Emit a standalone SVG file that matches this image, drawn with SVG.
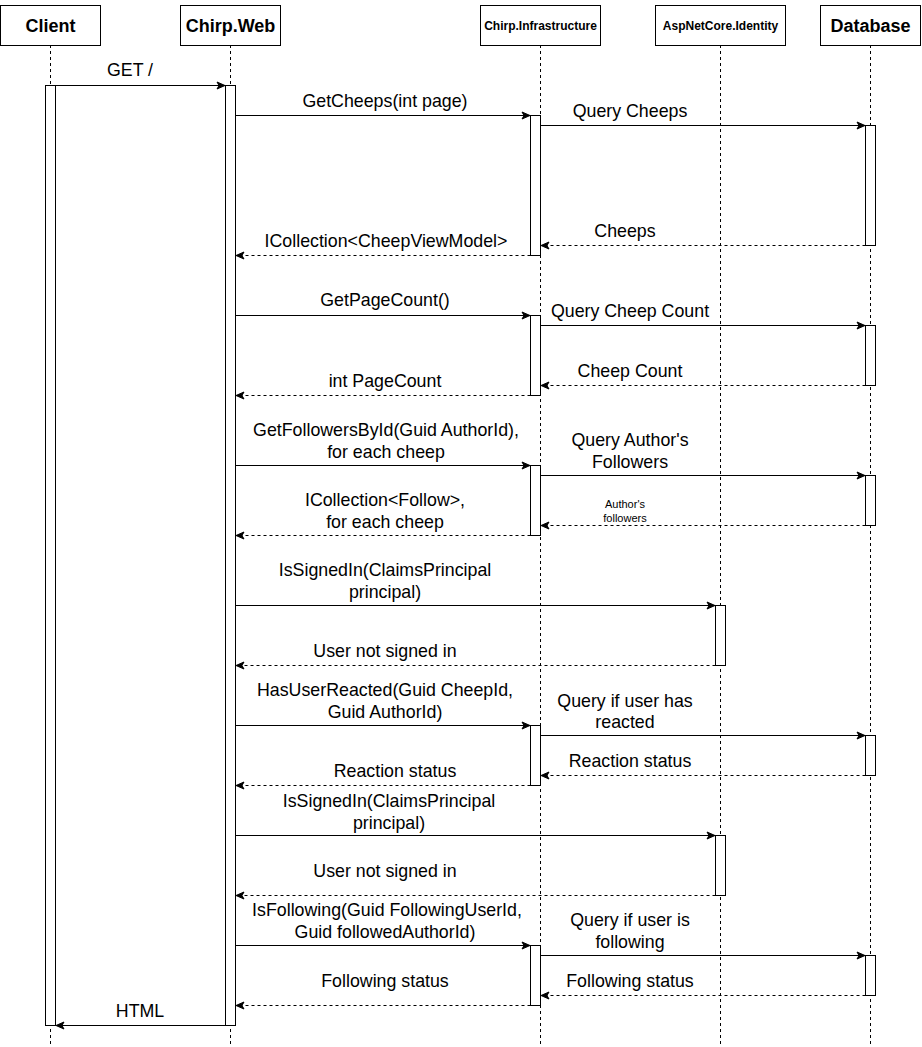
<svg xmlns="http://www.w3.org/2000/svg" width="922" height="1047" viewBox="0 0 922 1047">
  <style>
    .hdr { fill: #fff; stroke: #000; stroke-width: 1; }
    .hname { font-family: "Liberation Sans", Arial, sans-serif; font-weight: bold; font-size: 18px; text-anchor: middle; fill: #000; }
    .hsmall { font-family: "Liberation Sans", Arial, sans-serif; font-weight: bold; font-size: 12px; text-anchor: middle; fill: #000; }
    .life { stroke: #000; stroke-width: 1; stroke-dasharray: 3 3; fill: none; }
    .bar { fill: #fff; stroke: #000; stroke-width: 1; }
    .call { stroke: #000; stroke-width: 1; fill: none; marker-end: url(#arrow); }
    .ret { stroke: #000; stroke-width: 1; stroke-dasharray: 3 3; fill: none; marker-end: url(#arrow); }
    .lbl { font-family: "Liberation Sans", Arial, sans-serif; font-size: 17.8px; text-anchor: middle; fill: #000; }
    .lblsm { font-family: "Liberation Sans", Arial, sans-serif; font-size: 11px; text-anchor: middle; fill: #000; }
  </style>
  <defs>
    <marker id="arrow" viewBox="-10 -5 11 10" markerWidth="11" markerHeight="10" refX="0" refY="0" markerUnits="userSpaceOnUse" orient="auto">
      <path d="M0,0 L-8,-3.5 L-6,0 L-8,3.5 Z" fill="#000" stroke="#000" stroke-width="1" stroke-linejoin="miter"/>
    </marker>
  </defs>
  <rect width="922" height="1047" fill="#fff"/>

  <!-- lifelines -->
  <g id="lifelines">
    <line class="life" x1="50.5" y1="45" x2="50.5" y2="1045"/>
    <line class="life" x1="230.5" y1="45" x2="230.5" y2="1045"/>
    <line class="life" x1="540.5" y1="45" x2="540.5" y2="1045"/>
    <line class="life" x1="720.5" y1="45" x2="720.5" y2="1045"/>
    <line class="life" x1="870.5" y1="45" x2="870.5" y2="1045"/>
  </g>

  <!-- participants -->
  <g id="client">
    <rect class="hdr" x="0.5" y="5.5" width="100" height="40"/>
    <text class="hname" x="50.5" y="32">Client</text>
    <rect class="bar" x="45.5" y="85.5" width="10" height="940"/>
  </g>
  <g id="chirp-web">
    <rect class="hdr" x="180.5" y="5.5" width="100" height="40"/>
    <text class="hname" x="230.5" y="32">Chirp.Web</text>
    <rect class="bar" x="225.5" y="85.5" width="10" height="940"/>
  </g>
  <g id="chirp-infrastructure">
    <rect class="hdr" x="480.5" y="5.5" width="120" height="40"/>
    <text class="hsmall" x="540.5" y="30">Chirp.Infrastructure</text>
    <rect class="bar" x="530.5" y="115.5" width="10" height="140"/>
    <rect class="bar" x="530.5" y="315.5" width="10" height="80"/>
    <rect class="bar" x="530.5" y="465.5" width="10" height="70"/>
    <rect class="bar" x="530.5" y="725.5" width="10" height="60"/>
    <rect class="bar" x="530.5" y="945.5" width="10" height="60"/>
  </g>
  <g id="aspnetcore-identity">
    <rect class="hdr" x="655.5" y="5.5" width="130" height="40"/>
    <text class="hsmall" x="720.5" y="30">AspNetCore.Identity</text>
    <rect class="bar" x="715.5" y="605.5" width="10" height="60"/>
    <rect class="bar" x="715.5" y="835.5" width="10" height="60"/>
  </g>
  <g id="database">
    <rect class="hdr" x="820.5" y="5.5" width="100" height="40"/>
    <text class="hname" x="870.5" y="32">Database</text>
    <rect class="bar" x="865.5" y="125.5" width="10" height="120"/>
    <rect class="bar" x="865.5" y="325.5" width="10" height="60"/>
    <rect class="bar" x="865.5" y="475.5" width="10" height="50"/>
    <rect class="bar" x="865.5" y="735.5" width="10" height="40"/>
    <rect class="bar" x="865.5" y="955.5" width="10" height="40"/>
  </g>

  <!-- messages -->
  <g id="connectors">
    <line class="call" x1="55.5" y1="85.5" x2="225" y2="85.5"/>
    <line class="call" x1="235.5" y1="115.5" x2="530" y2="115.5"/>
    <line class="call" x1="540.5" y1="125.5" x2="865" y2="125.5"/>
    <line class="ret" x1="865.5" y1="245.5" x2="541" y2="245.5"/>
    <line class="ret" x1="530.5" y1="255.5" x2="236" y2="255.5"/>

    <line class="call" x1="235.5" y1="315.5" x2="530" y2="315.5"/>
    <line class="call" x1="540.5" y1="325.5" x2="865" y2="325.5"/>
    <line class="ret" x1="865.5" y1="385.5" x2="541" y2="385.5"/>
    <line class="ret" x1="530.5" y1="395.5" x2="236" y2="395.5"/>

    <line class="call" x1="235.5" y1="465.5" x2="530" y2="465.5"/>
    <line class="call" x1="540.5" y1="475.5" x2="865" y2="475.5"/>
    <line class="ret" x1="865.5" y1="525.5" x2="541" y2="525.5"/>
    <line class="ret" x1="530.5" y1="535.5" x2="236" y2="535.5"/>

    <line class="call" x1="235.5" y1="605.5" x2="715" y2="605.5"/>
    <line class="ret" x1="715.5" y1="665.5" x2="236" y2="665.5"/>

    <line class="call" x1="235.5" y1="725.5" x2="530" y2="725.5"/>
    <line class="call" x1="540.5" y1="735.5" x2="865" y2="735.5"/>
    <line class="ret" x1="865.5" y1="775.5" x2="541" y2="775.5"/>
    <line class="ret" x1="530.5" y1="785.5" x2="236" y2="785.5"/>

    <line class="call" x1="235.5" y1="835.5" x2="715" y2="835.5"/>
    <line class="ret" x1="715.5" y1="895.5" x2="236" y2="895.5"/>

    <line class="call" x1="235.5" y1="945.5" x2="530" y2="945.5"/>
    <line class="call" x1="540.5" y1="955.5" x2="865" y2="955.5"/>
    <line class="ret" x1="865.5" y1="995.5" x2="541" y2="995.5"/>
    <line class="ret" x1="530.5" y1="1005.5" x2="236" y2="1005.5"/>

    <line class="call" x1="225.5" y1="1025.5" x2="56" y2="1025.5"/>
  </g>

  <!-- message labels -->
  <g id="labels">
    <text class="lbl" x="130" y="76">GET /</text>
    <text class="lbl" x="385" y="107">GetCheeps(int page)</text>
    <text class="lbl" x="630" y="117">Query Cheeps</text>
    <text class="lbl" x="625" y="237">Cheeps</text>
    <text class="lbl" x="386" y="247">ICollection&lt;CheepViewModel&gt;</text>

    <text class="lbl" x="385" y="306">GetPageCount()</text>
    <text class="lbl" x="630" y="317">Query Cheep Count</text>
    <text class="lbl" x="630" y="377">Cheep Count</text>
    <text class="lbl" x="385" y="387">int PageCount</text>

    <text class="lbl" x="386" y="436">GetFollowersById(Guid AuthorId),</text>
    <text class="lbl" x="386" y="458">for each cheep</text>
    <text class="lbl" x="630" y="446">Query Author's</text>
    <text class="lbl" x="630" y="468">Followers</text>
    <text class="lblsm" x="625" y="508">Author's</text>
    <text class="lblsm" x="625" y="522">followers</text>
    <text class="lbl" x="385" y="506">ICollection&lt;Follow&gt;,</text>
    <text class="lbl" x="385" y="528">for each cheep</text>

    <text class="lbl" x="385" y="576">IsSignedIn(ClaimsPrincipal</text>
    <text class="lbl" x="385" y="598">principal)</text>
    <text class="lbl" x="385" y="657">User not signed in</text>

    <text class="lbl" x="385" y="696">HasUserReacted(Guid CheepId,</text>
    <text class="lbl" x="385" y="718">Guid AuthorId)</text>
    <text class="lbl" x="625" y="707">Query if user has</text>
    <text class="lbl" x="625" y="728">reacted</text>
    <text class="lbl" x="630" y="767">Reaction status</text>
    <text class="lbl" x="395" y="777">Reaction status</text>

    <text class="lbl" x="389" y="807">IsSignedIn(ClaimsPrincipal</text>
    <text class="lbl" x="389" y="829">principal)</text>
    <text class="lbl" x="385" y="877">User not signed in</text>

    <text class="lbl" x="387" y="916">IsFollowing(Guid FollowingUserId,</text>
    <text class="lbl" x="385" y="938">Guid followedAuthorId)</text>
    <text class="lbl" x="630" y="926">Query if user is</text>
    <text class="lbl" x="630" y="948">following</text>
    <text class="lbl" x="630" y="987">Following status</text>
    <text class="lbl" x="385" y="987">Following status</text>

    <text class="lbl" x="140" y="1017">HTML</text>
  </g>
</svg>
